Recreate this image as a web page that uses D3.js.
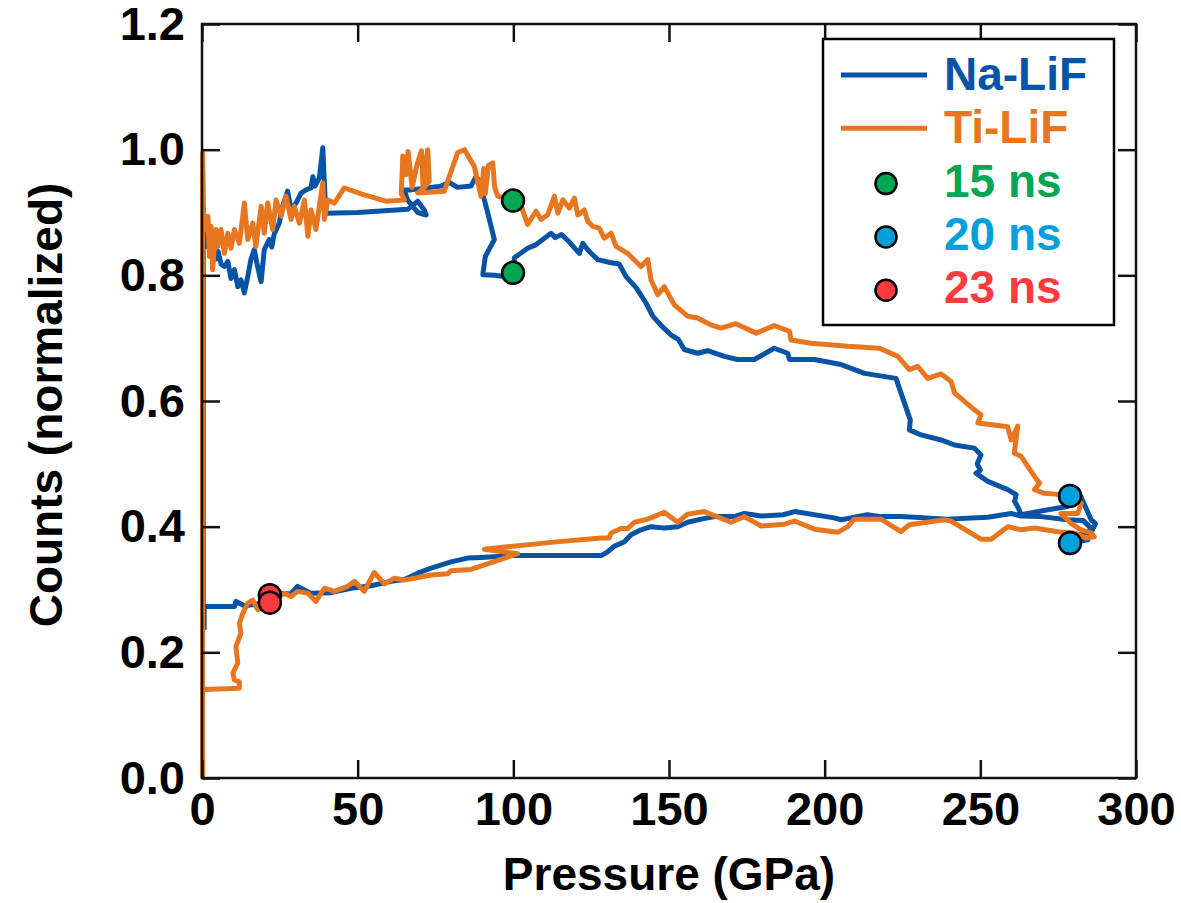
<!DOCTYPE html>
<html>
<head>
<script src="https://cdn.jsdelivr.net/npm/d3@7"></script>
<style>
  html, body { margin: 0; padding: 0; background: #fff; }
  text { font-family: "Liberation Sans", Arial, Helvetica, sans-serif; font-weight: bold; }
</style>
</head>
<body>
<script>
// ---- data (pressure GPa, normalized counts), in trace order ----
var naLiF = [
  [0.4,0.236],[0.4,0.87],[1.3,0.846],[2.1,0.86],[2.9,0.835],[3.6,0.842],[4.5,0.826],[5.2,0.838],[6.1,0.818],
  [7.2,0.814],[8.3,0.822],[9.3,0.795],[10.4,0.809],[11.5,0.782],[12.5,0.793],[13.6,0.772],[14.7,0.798],
  [15.7,0.825],[16.8,0.841],[17.6,0.82],[18.4,0.802],[19,0.79],[20,0.841],[21.6,0.857],[22.4,0.845],
  [23.2,0.866],[24.8,0.883],[25.9,0.91],[27.5,0.934],[28.6,0.904],[30.2,0.915],[31.8,0.931],[33.4,0.936],
  [35,0.939],[35.6,0.957],[36.3,0.942],[37.7,0.955],[38.8,1.003],[39.3,0.947],[39.8,0.899],[50,0.9],
  [66.1,0.905],[69.3,0.918],[71.4,0.904],[72,0.896],[69.3,0.9],[66,0.92],[65,0.936],[67.1,0.936],
  [76.8,0.942],[79.4,0.948],[82.1,0.94],[86.4,0.942],[88,0.957],[89.1,0.95],[91.8,0.899],[93.9,0.857],
  [91,0.83],[90.2,0.801],[94,0.8],[97,0.798],[100.3,0.804],[100.3,0.828],[104.6,0.843],[107,0.848],
  [110,0.859],[112.1,0.867],[113.5,0.86],[115.5,0.865],[118,0.853],[121.2,0.835],[122.3,0.851],[124,0.84],
  [127.1,0.825],[131.4,0.82],[134,0.818],[136.2,0.798],[139.5,0.78],[142.6,0.756],[144.8,0.735],
  [147.5,0.72],[150.7,0.705],[153,0.698],[154.9,0.682],[159.2,0.676],[162.4,0.68],[167.8,0.671],
  [172,0.666],[177.4,0.666],[183.8,0.684],[188.1,0.676],[188.7,0.666],[196.7,0.666],[205.3,0.658],
  [212.8,0.644],[222.9,0.636],[225.6,0.597],[227.5,0.57],[227.2,0.554],[231,0.546],[237.4,0.538],
  [241.7,0.53],[248.1,0.525],[250.2,0.514],[249,0.5],[250,0.49],[248.6,0.485],[252.4,0.472],[258.8,0.459],
  [261.5,0.451],[261,0.44],[262,0.432],[263.1,0.419],[271.7,0.427],[278,0.432],[281.3,0.459],[283,0.44],
  [285.6,0.411],[287,0.405],[284.5,0.379],[279,0.374],[281,0.385],[286,0.395],[283,0.41],[278,0.411],
  [269.5,0.416],[263,0.417],[259.9,0.421],[252.4,0.415],[239.5,0.412],[224.5,0.416],[218,0.416],
  [213.8,0.419],[205.3,0.411],[203,0.414],[190.3,0.424],[186.7,0.419],[179.6,0.417],[174.2,0.421],
  [171,0.416],[164.6,0.416],[160.3,0.412],[156,0.407],[152.8,0.4],[148.5,0.398],[144.2,0.4],[141,0.395],
  [137.8,0.387],[135.7,0.376],[132.5,0.369],[130.3,0.36],[128.2,0.354],[112,0.354],[99.3,0.354],
  [89.6,0.351],[85.3,0.35],[80,0.344],[73.6,0.334],[69.3,0.326],[65,0.316],[60.7,0.313],[54.3,0.306],
  [47.9,0.302],[41.4,0.295],[35,0.294],[30.7,0.305],[28.5,0.293],[25.4,0.294],[21.8,0.291],[17.9,0.277],
  [13.6,0.274],[10.9,0.281],[10.5,0.273],[0.7,0.273],[0.7,0.236]
];

var tiLiF = [
  [0.2,0.0],[0.2,0.995],[0.5,0.899],[1.3,0.873],[1.9,0.894],[2.4,0.83],[2.9,0.878],[3.4,0.809],[4.5,0.873],
  [5,0.846],[6.1,0.873],[7.2,0.835],[8.3,0.867],[9.3,0.843],[10.4,0.873],[12,0.851],[13.6,0.915],
  [14.7,0.857],[16.3,0.883],[17.3,0.846],[19,0.91],[20,0.867],[21.1,0.915],[22.7,0.873],[23.8,0.92],
  [25.4,0.894],[27,0.926],[28.6,0.889],[29.6,0.91],[31.3,0.883],[32.9,0.92],[34,0.862],[35,0.904],
  [36.6,0.873],[37.7,0.91],[38.8,0.947],[39.3,0.889],[40.4,0.92],[42.5,0.915],[45.7,0.939],[52.1,0.928],
  [59.1,0.918],[65,0.92],[64,0.93],[64.5,0.99],[65.5,0.96],[66.2,0.997],[67.5,0.94],[69,0.975],
  [70.5,0.998],[71,0.94],[72.5,1.0],[73,0.95],[71.5,0.94],[69.3,0.931],[77.8,0.934],[82.1,0.995],
  [84.3,1.0],[87.5,0.973],[88.5,0.95],[89.6,0.926],[90.5,0.97],[91,0.93],[92,0.975],[93.4,0.979],
  [94,0.94],[95,0.926],[100.3,0.918],[102.5,0.91],[104.6,0.881],[107.3,0.902],[108.9,0.889],[111,0.896],
  [113.2,0.926],[114.3,0.899],[115.9,0.92],[118,0.907],[119.6,0.923],[120.7,0.896],[122.8,0.904],
  [123.9,0.886],[125.5,0.878],[127.6,0.875],[129.2,0.859],[131.4,0.867],[133,0.846],[136.7,0.835],
  [141,0.814],[143.2,0.825],[144.2,0.793],[146.4,0.769],[148.5,0.782],[151.7,0.753],[156,0.735],
  [159.2,0.732],[163.5,0.721],[166.7,0.716],[171.5,0.723],[178,0.708],[183.8,0.72],[188.7,0.711],
  [189.2,0.697],[195.6,0.692],[207.4,0.687],[217.6,0.684],[223.5,0.671],[227.2,0.65],[229.9,0.655],
  [233.1,0.636],[237.4,0.643],[240.6,0.631],[241.7,0.613],[248.1,0.586],[250.2,0.578],[249.2,0.565],
  [258.8,0.559],[259.9,0.538],[262,0.56],[260.9,0.517],[263.1,0.512],[267.4,0.48],[269,0.469],
  [267.4,0.459],[270.6,0.453],[275.9,0.451],[279.2,0.449],[282.4,0.437],[281.3,0.421],[275.9,0.421],
  [279.2,0.405],[282.4,0.395],[285.6,0.39],[286.6,0.384],[284,0.382],[280.3,0.39],[274.9,0.392],
  [267.4,0.398],[263.1,0.395],[258.8,0.4],[253.5,0.38],[250.2,0.38],[240.6,0.409],[238.5,0.411],
  [227.2,0.403],[224.5,0.392],[218.1,0.412],[209.5,0.412],[207.4,0.4],[204.2,0.391],[196.7,0.396],
  [190.3,0.409],[187.1,0.404],[179.6,0.401],[174.2,0.416],[169.9,0.407],[161.4,0.424],[156,0.42],
  [152.8,0.407],[148.5,0.423],[143.2,0.412],[138.9,0.407],[136.7,0.397],[134.6,0.397],[131.4,0.39],
  [130.8,0.382],[128.2,0.382],[112.1,0.375],[90.7,0.364],[101.4,0.357],[86.4,0.332],[80,0.33],
  [78.9,0.325],[73.6,0.323],[68.2,0.318],[65,0.315],[61.8,0.318],[58.6,0.309],[55.3,0.327],[52.1,0.297],
  [49,0.313],[46.8,0.305],[42.5,0.297],[39.3,0.302],[36.6,0.281],[34,0.294],[30.7,0.297],[28.6,0.289],
  [26.4,0.294],[21.8,0.279],[17.9,0.268],[16.3,0.283],[14.7,0.278],[13.1,0.262],[12,0.246],[12.5,0.23],
  [10.9,0.209],[11.5,0.183],[9.9,0.167],[10.4,0.156],[12,0.153],[12,0.143],[0.7,0.141],[0.2,0.141],[0.2,0.0]
];

// time markers
var pts15 = [[99.9,0.919],[99.9,0.804]];
var pts20 = [[278.8,0.449],[278.8,0.374]];
var pts23 = [[21.8,0.291],[21.8,0.279]];

var xTicks = [0, 50, 100, 150, 200, 250, 300];
var yTicks = [0.0, 0.2, 0.4, 0.6, 0.8, 1.0, 1.2];

var legendItems = [
  {label: "Na-LiF", color: "#0753a6", type: "line"},
  {label: "Ti-LiF", color: "#e8761e", type: "line"},
  {label: "15 ns", color: "#00a651", type: "dot"},
  {label: "20 ns", color: "#00a0dc", type: "dot"},
  {label: "23 ns", color: "#ff3b3f", type: "dot"}
];

// ---- layout ----
var W = 1181, H = 903;
var plotLeft = 202, plotRight = 1136, plotTop = 24, plotBottom = 778;

var svg = d3.select("body").append("svg")
  .attr("width", W)
  .attr("height", H);

var x = d3.scaleLinear().domain([0, 300]).range([plotLeft, plotRight]);
var y = d3.scaleLinear().domain([0, 1.2]).range([plotBottom, plotTop]);

var line = d3.line()
  .x(function(d) { return x(d[0]); })
  .y(function(d) { return y(d[1]); });

// data lines
svg.append("path").datum(naLiF)
  .attr("d", line)
  .attr("fill", "none")
  .attr("stroke", legendItems[0].color)
  .attr("stroke-width", 5)
  .attr("stroke-linejoin", "round");

svg.append("path").datum(tiLiF)
  .attr("d", line)
  .attr("fill", "none")
  .attr("stroke", legendItems[1].color)
  .attr("stroke-width", 5)
  .attr("stroke-linejoin", "round");

// markers
[[pts15, 2], [pts20, 3], [pts23, 4]].forEach(function(m) {
  svg.selectAll(null).data(m[0]).enter().append("circle")
    .attr("cx", function(d) { return x(d[0]); })
    .attr("cy", function(d) { return y(d[1]); })
    .attr("r", 11)
    .attr("fill", legendItems[m[1]].color)
    .attr("stroke", "#000")
    .attr("stroke-width", 2.5);
});

// axes (inward ticks on all four sides)
var tickLen = 18;
function styleAxis(g) {
  g.select(".domain").remove();
  g.selectAll(".tick line").attr("stroke", "#111").attr("stroke-width", 2.5);
  g.selectAll("text").attr("fill", "#000").style("font-size", "47px");
}

svg.append("g")
  .attr("transform", "translate(0," + plotBottom + ")")
  .call(d3.axisBottom(x).tickValues(xTicks).tickSize(-tickLen).tickPadding(14).tickFormat(d3.format("d")))
  .call(styleAxis);

svg.append("g")
  .attr("transform", "translate(0," + plotTop + ")")
  .call(d3.axisTop(x).tickValues(xTicks).tickSize(-tickLen).tickFormat(""))
  .call(styleAxis);

svg.append("g")
  .attr("transform", "translate(" + plotLeft + ",0)")
  .call(d3.axisLeft(y).tickValues(yTicks).tickSize(-tickLen).tickPadding(17).tickFormat(d3.format(".1f")))
  .call(styleAxis);

svg.append("g")
  .attr("transform", "translate(" + plotRight + ",0)")
  .call(d3.axisRight(y).tickValues(yTicks).tickSize(-tickLen).tickFormat(""))
  .call(styleAxis);

// frame
svg.append("rect")
  .attr("x", plotLeft)
  .attr("y", plotTop)
  .attr("width", plotRight - plotLeft)
  .attr("height", plotBottom - plotTop)
  .attr("fill", "none")
  .attr("stroke", "#111")
  .attr("stroke-width", 2.5);

// axis titles
svg.append("text")
  .attr("x", (plotLeft + plotRight) / 2)
  .attr("y", 890)
  .attr("text-anchor", "middle")
  .style("font-size", "46px")
  .text("Pressure (GPa)");

svg.append("text")
  .attr("transform", "translate(62,405) rotate(-90)")
  .attr("text-anchor", "middle")
  .style("font-size", "46px")
  .text("Counts (normalized)");

// legend
var lg = svg.append("g");
lg.append("rect")
  .attr("x", 823).attr("y", 39)
  .attr("width", 291).attr("height", 286)
  .attr("fill", "#fff")
  .attr("stroke", "#000")
  .attr("stroke-width", 2.5);

legendItems.forEach(function(d, i) {
  var base = 90 + i * 53.3;
  if (d.type === "line") {
    lg.append("line")
      .attr("x1", 841).attr("x2", 927)
      .attr("y1", base - 15).attr("y2", base - 15)
      .attr("stroke", d.color)
      .attr("stroke-width", 5);
  } else {
    lg.append("circle")
      .attr("cx", 886).attr("cy", base - 13)
      .attr("r", 10.5)
      .attr("fill", d.color)
      .attr("stroke", "#000")
      .attr("stroke-width", 2.5);
  }
  lg.append("text")
    .attr("x", 944)
    .attr("y", base)
    .attr("fill", d.color)
    .style("font-size", "46px")
    .text(d.label);
});
</script>
</body>
</html>
